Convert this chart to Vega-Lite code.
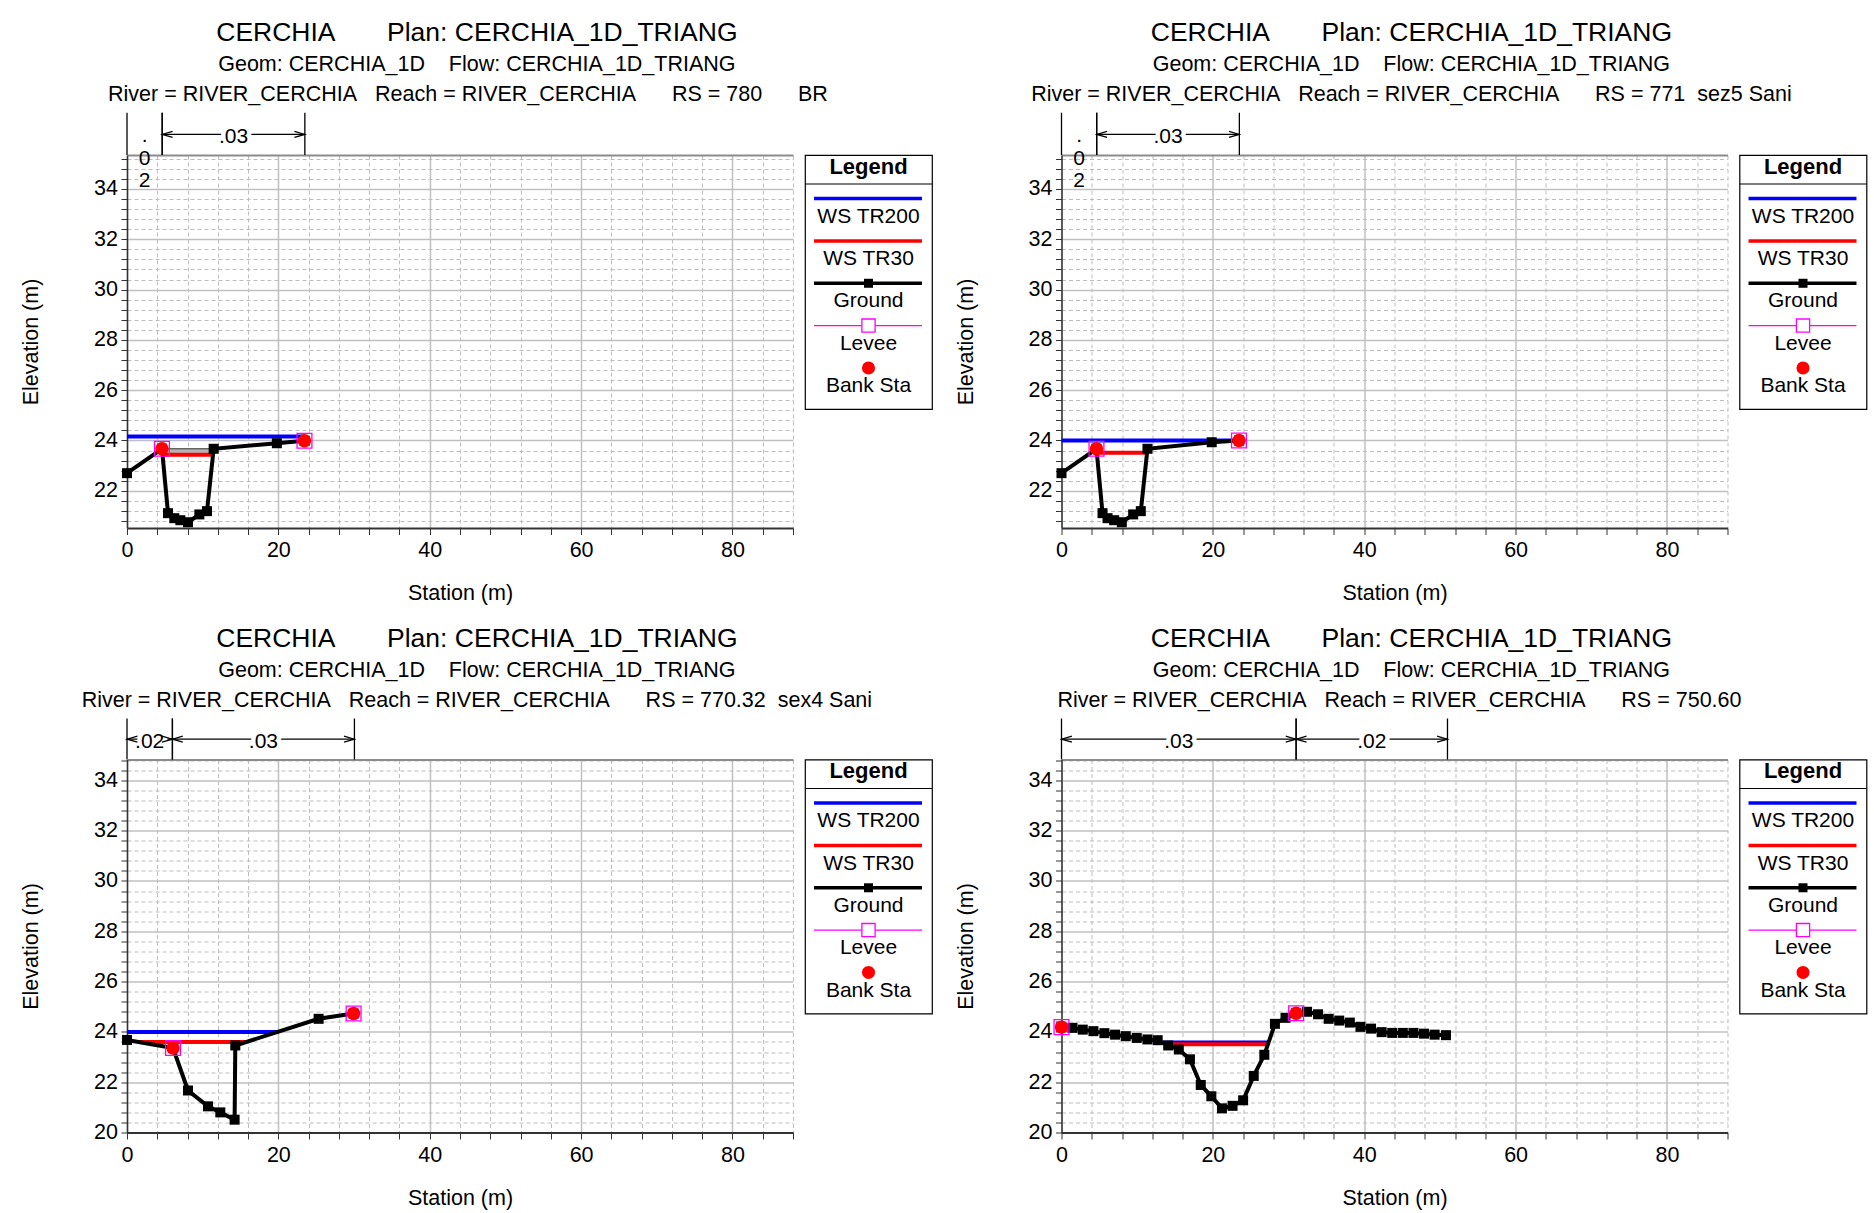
{
"$schema": "https://vega.github.io/schema/vega-lite/v6.json",
"background": "white",
"padding": {"left": 20, "top": 19, "right": 5, "bottom": 5},
"config": {
 "font": "Liberation Sans",
 "view": {"stroke": null},
 "axis": {"labelFont": "Liberation Sans", "titleFont": "Liberation Sans", "labelFontSize": 21.5, "titleFontSize": 21.5, "titleFontWeight": "normal", "labelColor": "#000", "titleColor": "#000", "tickColor": "#333", "domainColor": "#333", "labelFlush": false, "labelOverlap": false, "tickWidth": 1},
 "title": {"font": "Liberation Sans", "fontSize": 26.5, "fontWeight": "normal", "color": "#000", "subtitleFont": "Liberation Sans", "subtitleFontSize": 21.5, "subtitleColor": "#000", "subtitleLineHeight": 30, "subtitlePadding": 7.7, "anchor": "middle", "frame": "bounds", "offset": 6.5},
 "text": {"font": "Liberation Sans", "color": "#000"}
},
"datasets": {
 "ground": [
  {"p":"780","sta":0,"elev":22.70},{"p":"780","sta":4.62,"elev":23.67},{"p":"780","sta":5.42,"elev":21.11},{"p":"780","sta":6.25,"elev":20.91},{"p":"780","sta":7.05,"elev":20.83},{"p":"780","sta":8.06,"elev":20.75},{"p":"780","sta":9.56,"elev":21.06},{"p":"780","sta":10.57,"elev":21.19},{"p":"780","sta":11.45,"elev":23.67},{"p":"780","sta":19.8,"elev":23.89},{"p":"780","sta":23.45,"elev":23.99},
  {"p":"771","sta":0,"elev":22.70},{"p":"771","sta":4.62,"elev":23.67},{"p":"771","sta":5.42,"elev":21.11},{"p":"771","sta":6.08,"elev":20.91},{"p":"771","sta":6.96,"elev":20.83},{"p":"771","sta":7.97,"elev":20.75},{"p":"771","sta":9.47,"elev":21.06},{"p":"771","sta":10.48,"elev":21.19},{"p":"771","sta":11.36,"elev":23.67},{"p":"771","sta":19.85,"elev":23.93},{"p":"771","sta":23.45,"elev":24.0},
  {"p":"770.32","sta":0,"elev":23.68},{"p":"770.32","sta":6.08,"elev":23.36},{"p":"770.32","sta":8.06,"elev":21.67},{"p":"770.32","sta":10.7,"elev":21.04},{"p":"770.32","sta":12.33,"elev":20.8},{"p":"770.32","sta":14.22,"elev":20.51},{"p":"770.32","sta":14.31,"elev":23.46},{"p":"770.32","sta":25.32,"elev":24.52},{"p":"770.32","sta":29.94,"elev":24.73},
  {"p":"750.60","sta":0,"elev":24.19},{"p":"750.60","sta":1.45,"elev":24.16},{"p":"750.60","sta":2.81,"elev":24.09},{"p":"750.60","sta":4.22,"elev":24.03},{"p":"750.60","sta":5.67,"elev":23.95},{"p":"750.60","sta":7.08,"elev":23.89},{"p":"750.60","sta":8.49,"elev":23.83},{"p":"750.60","sta":9.94,"elev":23.76},{"p":"750.60","sta":11.35,"elev":23.70},{"p":"750.60","sta":12.71,"elev":23.67},{"p":"750.60","sta":14.1,"elev":23.46},{"p":"750.60","sta":15.5,"elev":23.30},{"p":"750.60","sta":16.97,"elev":22.91},{"p":"750.60","sta":18.4,"elev":21.89},{"p":"750.60","sta":19.8,"elev":21.44},{"p":"750.60","sta":21.2,"elev":20.96},{"p":"750.60","sta":22.6,"elev":21.06},{"p":"750.60","sta":24.0,"elev":21.28},{"p":"750.60","sta":25.4,"elev":22.25},{"p":"750.60","sta":26.8,"elev":23.09},{"p":"750.60","sta":28.2,"elev":24.32},{"p":"750.60","sta":29.6,"elev":24.56},{"p":"750.60","sta":31.0,"elev":24.74},{"p":"750.60","sta":32.45,"elev":24.80},{"p":"750.60","sta":33.9,"elev":24.70},{"p":"750.60","sta":35.3,"elev":24.52},{"p":"750.60","sta":36.7,"elev":24.45},{"p":"750.60","sta":38.1,"elev":24.37},{"p":"750.60","sta":39.5,"elev":24.20},{"p":"750.60","sta":40.9,"elev":24.13},{"p":"750.60","sta":42.3,"elev":23.99},{"p":"750.60","sta":43.7,"elev":23.96},{"p":"750.60","sta":45.1,"elev":23.96},{"p":"750.60","sta":46.5,"elev":23.96},{"p":"750.60","sta":47.9,"elev":23.93},{"p":"750.60","sta":49.3,"elev":23.89},{"p":"750.60","sta":50.8,"elev":23.87}
 ],
 "ws": [
  {"p":"780","s":"WS TR200","sta":0,"elev":24.16},{"p":"780","s":"WS TR200","sta":23.45,"elev":24.16},
  {"p":"780","s":"WS TR30","sta":4.84,"elev":23.43},{"p":"780","s":"WS TR30","sta":11.45,"elev":23.43},
  {"p":"771","s":"WS TR200","sta":0,"elev":24.0},{"p":"771","s":"WS TR200","sta":23.45,"elev":24.0},
  {"p":"771","s":"WS TR30","sta":4.9,"elev":23.51},{"p":"771","s":"WS TR30","sta":11.36,"elev":23.51},
  {"p":"770.32","s":"WS TR200","sta":0,"elev":24.0},{"p":"770.32","s":"WS TR200","sta":20.04,"elev":24.0},
  {"p":"770.32","s":"WS TR30","sta":1.52,"elev":23.60},{"p":"770.32","s":"WS TR30","sta":15.63,"elev":23.60},
  {"p":"750.60","s":"WS TR200","sta":13.4,"elev":23.58},{"p":"750.60","s":"WS TR200","sta":27.45,"elev":23.58},
  {"p":"750.60","s":"WS TR30","sta":13.5,"elev":23.51},{"p":"750.60","s":"WS TR30","sta":27.35,"elev":23.51}
 ],
 "bank": [
  {"p":"780","sta":4.62,"elev":23.67},{"p":"780","sta":23.45,"elev":23.99},
  {"p":"771","sta":4.62,"elev":23.67},{"p":"771","sta":23.45,"elev":24.0},
  {"p":"770.32","sta":6.08,"elev":23.36},{"p":"770.32","sta":29.94,"elev":24.73},
  {"p":"750.60","sta":0,"elev":24.19},{"p":"750.60","sta":31.0,"elev":24.74}
 ],
 "deck": [
  {"p":"780","from":4.62,"to":11.45,"low":23.47,"high":23.67}
 ],
 "nval": [
  {"p":"780","from":0,"to":4.65,"n":".02"},{"p":"780","from":4.65,"to":23.5,"n":".03"},
  {"p":"771","from":0,"to":4.65,"n":".02"},{"p":"771","from":4.65,"to":23.5,"n":".03"},
  {"p":"770.32","from":0,"to":6.0,"n":".02"},{"p":"770.32","from":6.0,"to":30.05,"n":".03"},
  {"p":"750.60","from":0,"to":31.0,"n":".03"},{"p":"750.60","from":31.0,"to":51.0,"n":".02"}
 ],
 "legend": [
  {"label":"Legend"},{"label":"WS TR200"},{"label":"WS TR30"},{"label":"Ground"},{"label":"Levee"},{"label":"Bank Sta"}
 ]
},
"spacing": 21.5,
"vconcat": [
 {"spacing": 20.5, "hconcat": [
  {"bounds": "flush", "spacing": 12,
   "title": {"text": "CERCHIA\u00a0\u00a0\u00a0\u00a0\u00a0\u00a0\u00a0Plan: CERCHIA_1D_TRIANG", "subtitle": ["Geom: CERCHIA_1D\u00a0\u00a0\u00a0\u00a0Flow: CERCHIA_1D_TRIANG", "River = RIVER_CERCHIA\u00a0\u00a0\u00a0Reach = RIVER_CERCHIA\u00a0\u00a0\u00a0\u00a0\u00a0\u00a0RS = 780\u00a0\u00a0\u00a0\u00a0\u00a0\u00a0BR\u00a0\u00a0\u00a0\u200b"]},
   "hconcat": [
    {"width": 666, "height": 373, "view": {"stroke": null},
     "resolve": {"axis": {"x": "independent", "y": "independent"}},
     "layer": [
      {"data": {"name": "deck"}, "transform": [{"filter": "datum.p == '780'"}],
       "mark": {"type": "rect", "fill": "#b4b4b4", "stroke": "#333", "strokeWidth": 1},
       "encoding": {"x": {"field": "from", "type": "quantitative", "axis": null}, "x2": {"field": "to"}, "y": {"field": "low", "type": "quantitative", "axis": null}, "y2": {"field": "high"}}},
      {"data": {"name": "ws"}, "transform": [{"filter": "datum.p == '780'"}],
       "mark": {"type": "line", "strokeWidth": 4},
       "encoding": {
        "x": {"field": "sta", "type": "quantitative", "scale": {"domain": [0, 88], "nice": false, "zero": false}, "axis": {"orient": "bottom", "values": [4,8,12,16,24,28,32,36,44,48,52,56,64,68,72,76,84,88], "labels": false, "title": null, "domain": false, "tickSize": 6.5, "grid": true, "gridColor": "#bdbdbd", "gridDash": [4,3], "gridWidth": 1}},
        "y": {"field": "elev", "type": "quantitative", "scale": {"domain": [20.52, 35.35], "nice": false, "zero": false}, "axis": {"orient": "left", "values": [20.8,21.2,21.6,22.4,22.8,23.2,23.6,24.4,24.8,25.2,25.6,26.4,26.8,27.2,27.6,28.4,28.8,29.2,29.6,30.4,30.8,31.2,31.6,32.4,32.8,33.2,33.6,34.4,34.8,35.2], "labels": false, "title": null, "domain": false, "tickSize": 6, "grid": true, "gridColor": "#bdbdbd", "gridDash": [4,3], "gridWidth": 1}},
        "color": {"field": "s", "type": "nominal", "scale": {"domain": ["WS TR200", "WS TR30"], "range": ["#0000ff", "#ff0000"]}, "legend": null}}},
      {"data": {"name": "ground"}, "transform": [{"filter": "datum.p == '780'"}],
       "mark": {"type": "line", "color": "#000", "strokeWidth": 4},
       "encoding": {
        "x": {"field": "sta", "type": "quantitative", "scale": {"domain": [0, 88], "nice": false, "zero": false}, "axis": {"orient": "bottom", "values": [0,20,40,60,80], "title": "Station (m)", "titlePadding": 21.5, "labelPadding": 5, "tickSize": 6.5, "domainWidth": 2, "grid": true, "gridColor": "#c0c0c0", "gridWidth": 1.5}},
        "y": {"field": "elev", "type": "quantitative", "scale": {"domain": [20.52, 35.35], "nice": false, "zero": false}, "axis": {"orient": "left", "values": [22,24,26,28,30,32,34], "title": "Elevation (m)", "titlePadding": 51, "labelPadding": 3.5, "tickSize": 6, "domainWidth": 1.5, "grid": true, "gridColor": "#c0c0c0", "gridWidth": 1.5}}}},
      {"data": {"name": "ground"}, "transform": [{"filter": "datum.p == '780'"}],
       "mark": {"type": "point", "shape": "square", "filled": true, "color": "#000", "size": 100, "opacity": 1},
       "encoding": {"x": {"field": "sta", "type": "quantitative", "axis": null}, "y": {"field": "elev", "type": "quantitative", "axis": null}}},
      {"data": {"name": "bank"}, "transform": [{"filter": "datum.p == '780'"}],
       "mark": {"type": "point", "shape": "square", "filled": false, "stroke": "#ff00ff", "strokeWidth": 1.3, "size": 220, "opacity": 1},
       "encoding": {"x": {"field": "sta", "type": "quantitative", "axis": null}, "y": {"field": "elev", "type": "quantitative", "axis": null}}},
      {"data": {"name": "bank"}, "transform": [{"filter": "datum.p == '780'"}],
       "mark": {"type": "point", "shape": "circle", "filled": true, "color": "#ff0000", "size": 180, "opacity": 1},
       "encoding": {"x": {"field": "sta", "type": "quantitative", "axis": null}, "y": {"field": "elev", "type": "quantitative", "axis": null}}},
      {"data": {"name": "nval"}, "transform": [{"filter": "datum.p == '780'"}, {"fold": ["from", "to"], "as": ["end", "sta"]}],
       "mark": {"type": "rule", "color": "#000", "strokeWidth": 1.3},
       "encoding": {"x": {"field": "sta", "type": "quantitative", "axis": {"orient": "top", "domain": true, "domainColor": "#8c8c8c", "domainWidth": 2, "ticks": false, "labels": false, "grid": false, "title": null}}, "y": {"datum": 37.03, "axis": null}, "y2": {"datum": 35.35}}},
      {"data": {"name": "nval"}, "transform": [{"filter": "datum.p == '780' && datum.n == '.03'"}],
       "mark": {"type": "rule", "color": "#000", "strokeWidth": 1.2},
       "encoding": {"x": {"field": "from", "type": "quantitative", "axis": null}, "x2": {"field": "to"}, "y": {"datum": 36.17, "axis": null}}},
      {"data": {"name": "nval"}, "transform": [{"filter": "datum.p == '780' && datum.n == '.03'"}, {"fold": ["from", "to"], "as": ["end", "sta"]}, {"aggregate": [{"op": "mean", "field": "sta", "as": "mid"}], "groupby": ["n"]}],
       "mark": {"type": "text", "fontSize": 21, "align": "center", "baseline": "middle", "dy": 2.5, "stroke": "white", "strokeWidth": 9, "fill": "white"},
       "encoding": {"x": {"field": "mid", "type": "quantitative", "axis": null}, "y": {"datum": 36.17, "axis": null}, "text": {"field": "n"}}},
      {"data": {"name": "nval"}, "transform": [{"filter": "datum.p == '780' && datum.n == '.03'"}],
       "mark": {"type": "point", "shape": "M2.6,-0.75L0,0L2.6,0.75", "filled": false, "stroke": "#000", "strokeWidth": 1.2, "size": 64, "opacity": 1},
       "encoding": {"x": {"field": "from", "type": "quantitative", "axis": null}, "y": {"datum": 36.17, "axis": null}}},
      {"data": {"name": "nval"}, "transform": [{"filter": "datum.p == '780' && datum.n == '.03'"}],
       "mark": {"type": "point", "shape": "M-2.6,-0.75L0,0L-2.6,0.75", "filled": false, "stroke": "#000", "strokeWidth": 1.2, "size": 64, "opacity": 1},
       "encoding": {"x": {"field": "to", "type": "quantitative", "axis": null}, "y": {"datum": 36.17, "axis": null}}},
      {"data": {"name": "nval"}, "transform": [{"filter": "datum.p == '780' && datum.n == '.03'"}, {"fold": ["from", "to"], "as": ["end", "sta"]}, {"aggregate": [{"op": "mean", "field": "sta", "as": "mid"}], "groupby": ["n"]}],
       "mark": {"type": "text", "fontSize": 21, "align": "center", "baseline": "middle", "dy": 2.5, "color": "#000"},
       "encoding": {"x": {"field": "mid", "type": "quantitative", "axis": null}, "y": {"datum": 36.17, "axis": null}, "text": {"field": "n"}}},
      {"data": {"name": "nval"}, "transform": [{"filter": "datum.p == '780' && datum.n == '.02'"}, {"fold": ["from", "to"], "as": ["end", "sta"]}, {"aggregate": [{"op": "mean", "field": "sta", "as": "mid"}], "groupby": ["n"]}],
       "mark": {"type": "text", "fontSize": 21, "align": "center", "baseline": "middle", "lineHeight": 22.5, "color": "#000", "text": {"expr": "split(datum.n, '')"}},
       "encoding": {"x": {"field": "mid", "type": "quantitative", "axis": null}, "y": {"datum": 36.09, "axis": null}}}
     ]},
    {"width": 127, "height": 254, "view": {"stroke": "#000", "strokeWidth": 1.2}, "data": {"name": "legend"},
     "layer": [
      {"transform": [{"filter": "datum.label == 'Legend'"}],
       "mark": {"type": "text", "fontSize": 22, "fontWeight": "bold", "baseline": "middle", "align": "center", "color": "#000"},
       "encoding": {"x": {"datum": 0.5, "type": "quantitative", "scale": {"domain": [0, 1], "nice": false, "zero": false}, "axis": null}, "y": {"field": "label", "type": "nominal", "scale": {"type": "band", "domain": ["Legend","WS TR200","WS TR30","Ground","Levee","Bank Sta"], "paddingInner": 0, "paddingOuter": 0}, "axis": null, "bandPosition": 0.276}, "text": {"field": "label"}}},
      {"transform": [{"filter": "datum.label == 'Legend'"}],
       "mark": {"type": "rule", "color": "#000", "strokeWidth": 1.2},
       "encoding": {"x": {"datum": 0, "type": "quantitative", "axis": null}, "x2": {"datum": 1}, "y": {"field": "label", "type": "nominal", "axis": null, "bandPosition": 0.685}}},
      {"transform": [{"filter": "datum.label == 'WS TR200'"}],
       "mark": {"type": "rule", "strokeWidth": 3.5, "color": "#0000ff"},
       "encoding": {"x": {"datum": 0.071, "type": "quantitative", "axis": null}, "x2": {"datum": 0.921}, "y": {"field": "label", "type": "nominal", "axis": null, "bandPosition": 0.03}}},
      {"transform": [{"filter": "datum.label == 'WS TR30'"}],
       "mark": {"type": "rule", "strokeWidth": 3.5, "color": "#ff0000"},
       "encoding": {"x": {"datum": 0.071, "type": "quantitative", "axis": null}, "x2": {"datum": 0.921}, "y": {"field": "label", "type": "nominal", "axis": null, "bandPosition": 0.03}}},
      {"transform": [{"filter": "datum.label == 'Ground'"}],
       "mark": {"type": "rule", "strokeWidth": 3.5, "color": "#000000"},
       "encoding": {"x": {"datum": 0.071, "type": "quantitative", "axis": null}, "x2": {"datum": 0.921}, "y": {"field": "label", "type": "nominal", "axis": null, "bandPosition": 0.03}}},
      {"transform": [{"filter": "datum.label == 'Levee'"}],
       "mark": {"type": "rule", "color": "#ff00ff", "strokeWidth": 1.3},
       "encoding": {"x": {"datum": 0.071, "type": "quantitative", "axis": null}, "x2": {"datum": 0.921}, "y": {"field": "label", "type": "nominal", "axis": null, "bandPosition": 0.03}}},
      {"transform": [{"filter": "datum.label == 'Ground'"}],
       "mark": {"type": "point", "shape": "square", "filled": true, "color": "#000", "size": 81, "opacity": 1},
       "encoding": {"x": {"datum": 0.5, "type": "quantitative", "axis": null}, "y": {"field": "label", "type": "nominal", "axis": null, "bandPosition": 0.03}}},
      {"transform": [{"filter": "datum.label == 'Levee'"}],
       "mark": {"type": "point", "shape": "square", "filled": true, "fill": "white", "stroke": "#ff00ff", "strokeWidth": 1.3, "size": 175, "opacity": 1},
       "encoding": {"x": {"datum": 0.5, "type": "quantitative", "axis": null}, "y": {"field": "label", "type": "nominal", "axis": null, "bandPosition": 0.03}}},
      {"transform": [{"filter": "datum.label == 'Bank Sta'"}],
       "mark": {"type": "point", "shape": "circle", "filled": true, "color": "#ff0000", "size": 170, "opacity": 1},
       "encoding": {"x": {"datum": 0.5, "type": "quantitative", "axis": null}, "y": {"field": "label", "type": "nominal", "axis": null, "bandPosition": 0.03}}},
      {"transform": [{"filter": "datum.label != 'Legend'"}],
       "mark": {"type": "text", "fontSize": 21, "baseline": "middle", "align": "center", "color": "#000"},
       "encoding": {"x": {"datum": 0.5, "type": "quantitative", "axis": null}, "y": {"field": "label", "type": "nominal", "axis": null, "bandPosition": 0.46}, "text": {"field": "label"}}}
     ]}
   ]},
  {"bounds": "flush", "spacing": 12,
   "title": {"text": "CERCHIA\u00a0\u00a0\u00a0\u00a0\u00a0\u00a0\u00a0Plan: CERCHIA_1D_TRIANG", "subtitle": ["Geom: CERCHIA_1D\u00a0\u00a0\u00a0\u00a0Flow: CERCHIA_1D_TRIANG", "River = RIVER_CERCHIA\u00a0\u00a0\u00a0Reach = RIVER_CERCHIA\u00a0\u00a0\u00a0\u00a0\u00a0\u00a0RS = 771\u00a0\u00a0sez5 Sani"]},
   "hconcat": [
    {"width": 666, "height": 373, "view": {"stroke": null},
     "resolve": {"axis": {"x": "independent", "y": "independent"}},
     "layer": [
      {"data": {"name": "ws"}, "transform": [{"filter": "datum.p == '771'"}],
       "mark": {"type": "line", "strokeWidth": 4},
       "encoding": {
        "x": {"field": "sta", "type": "quantitative", "scale": {"domain": [0, 88], "nice": false, "zero": false}, "axis": {"orient": "bottom", "values": [4,8,12,16,24,28,32,36,44,48,52,56,64,68,72,76,84,88], "labels": false, "title": null, "domain": false, "tickSize": 6.5, "grid": true, "gridColor": "#bdbdbd", "gridDash": [4,3], "gridWidth": 1}},
        "y": {"field": "elev", "type": "quantitative", "scale": {"domain": [20.52, 35.35], "nice": false, "zero": false}, "axis": {"orient": "left", "values": [20.8,21.2,21.6,22.4,22.8,23.2,23.6,24.4,24.8,25.2,25.6,26.4,26.8,27.2,27.6,28.4,28.8,29.2,29.6,30.4,30.8,31.2,31.6,32.4,32.8,33.2,33.6,34.4,34.8,35.2], "labels": false, "title": null, "domain": false, "tickSize": 6, "grid": true, "gridColor": "#bdbdbd", "gridDash": [4,3], "gridWidth": 1}},
        "color": {"field": "s", "type": "nominal", "scale": {"domain": ["WS TR200", "WS TR30"], "range": ["#0000ff", "#ff0000"]}, "legend": null}}},
      {"data": {"name": "ground"}, "transform": [{"filter": "datum.p == '771'"}],
       "mark": {"type": "line", "color": "#000", "strokeWidth": 4},
       "encoding": {
        "x": {"field": "sta", "type": "quantitative", "scale": {"domain": [0, 88], "nice": false, "zero": false}, "axis": {"orient": "bottom", "values": [0,20,40,60,80], "title": "Station (m)", "titlePadding": 21.5, "labelPadding": 5, "tickSize": 6.5, "domainWidth": 2, "grid": true, "gridColor": "#c0c0c0", "gridWidth": 1.5}},
        "y": {"field": "elev", "type": "quantitative", "scale": {"domain": [20.52, 35.35], "nice": false, "zero": false}, "axis": {"orient": "left", "values": [22,24,26,28,30,32,34], "title": "Elevation (m)", "titlePadding": 51, "labelPadding": 3.5, "tickSize": 6, "domainWidth": 1.5, "grid": true, "gridColor": "#c0c0c0", "gridWidth": 1.5}}}},
      {"data": {"name": "ground"}, "transform": [{"filter": "datum.p == '771'"}],
       "mark": {"type": "point", "shape": "square", "filled": true, "color": "#000", "size": 100, "opacity": 1},
       "encoding": {"x": {"field": "sta", "type": "quantitative", "axis": null}, "y": {"field": "elev", "type": "quantitative", "axis": null}}},
      {"data": {"name": "bank"}, "transform": [{"filter": "datum.p == '771'"}],
       "mark": {"type": "point", "shape": "square", "filled": false, "stroke": "#ff00ff", "strokeWidth": 1.3, "size": 220, "opacity": 1},
       "encoding": {"x": {"field": "sta", "type": "quantitative", "axis": null}, "y": {"field": "elev", "type": "quantitative", "axis": null}}},
      {"data": {"name": "bank"}, "transform": [{"filter": "datum.p == '771'"}],
       "mark": {"type": "point", "shape": "circle", "filled": true, "color": "#ff0000", "size": 180, "opacity": 1},
       "encoding": {"x": {"field": "sta", "type": "quantitative", "axis": null}, "y": {"field": "elev", "type": "quantitative", "axis": null}}},
      {"data": {"name": "nval"}, "transform": [{"filter": "datum.p == '771'"}, {"fold": ["from", "to"], "as": ["end", "sta"]}],
       "mark": {"type": "rule", "color": "#000", "strokeWidth": 1.3},
       "encoding": {"x": {"field": "sta", "type": "quantitative", "axis": {"orient": "top", "domain": true, "domainColor": "#8c8c8c", "domainWidth": 2, "ticks": false, "labels": false, "grid": false, "title": null}}, "y": {"datum": 37.03, "axis": null}, "y2": {"datum": 35.35}}},
      {"data": {"name": "nval"}, "transform": [{"filter": "datum.p == '771' && datum.n == '.03'"}],
       "mark": {"type": "rule", "color": "#000", "strokeWidth": 1.2},
       "encoding": {"x": {"field": "from", "type": "quantitative", "axis": null}, "x2": {"field": "to"}, "y": {"datum": 36.17, "axis": null}}},
      {"data": {"name": "nval"}, "transform": [{"filter": "datum.p == '771' && datum.n == '.03'"}, {"fold": ["from", "to"], "as": ["end", "sta"]}, {"aggregate": [{"op": "mean", "field": "sta", "as": "mid"}], "groupby": ["n"]}],
       "mark": {"type": "text", "fontSize": 21, "align": "center", "baseline": "middle", "dy": 2.5, "stroke": "white", "strokeWidth": 9, "fill": "white"},
       "encoding": {"x": {"field": "mid", "type": "quantitative", "axis": null}, "y": {"datum": 36.17, "axis": null}, "text": {"field": "n"}}},
      {"data": {"name": "nval"}, "transform": [{"filter": "datum.p == '771' && datum.n == '.03'"}],
       "mark": {"type": "point", "shape": "M2.6,-0.75L0,0L2.6,0.75", "filled": false, "stroke": "#000", "strokeWidth": 1.2, "size": 64, "opacity": 1},
       "encoding": {"x": {"field": "from", "type": "quantitative", "axis": null}, "y": {"datum": 36.17, "axis": null}}},
      {"data": {"name": "nval"}, "transform": [{"filter": "datum.p == '771' && datum.n == '.03'"}],
       "mark": {"type": "point", "shape": "M-2.6,-0.75L0,0L-2.6,0.75", "filled": false, "stroke": "#000", "strokeWidth": 1.2, "size": 64, "opacity": 1},
       "encoding": {"x": {"field": "to", "type": "quantitative", "axis": null}, "y": {"datum": 36.17, "axis": null}}},
      {"data": {"name": "nval"}, "transform": [{"filter": "datum.p == '771' && datum.n == '.03'"}, {"fold": ["from", "to"], "as": ["end", "sta"]}, {"aggregate": [{"op": "mean", "field": "sta", "as": "mid"}], "groupby": ["n"]}],
       "mark": {"type": "text", "fontSize": 21, "align": "center", "baseline": "middle", "dy": 2.5, "color": "#000"},
       "encoding": {"x": {"field": "mid", "type": "quantitative", "axis": null}, "y": {"datum": 36.17, "axis": null}, "text": {"field": "n"}}},
      {"data": {"name": "nval"}, "transform": [{"filter": "datum.p == '771' && datum.n == '.02'"}, {"fold": ["from", "to"], "as": ["end", "sta"]}, {"aggregate": [{"op": "mean", "field": "sta", "as": "mid"}], "groupby": ["n"]}],
       "mark": {"type": "text", "fontSize": 21, "align": "center", "baseline": "middle", "lineHeight": 22.5, "color": "#000", "text": {"expr": "split(datum.n, '')"}},
       "encoding": {"x": {"field": "mid", "type": "quantitative", "axis": null}, "y": {"datum": 36.09, "axis": null}}}
     ]},
    {"width": 127, "height": 254, "view": {"stroke": "#000", "strokeWidth": 1.2}, "data": {"name": "legend"},
     "layer": [
      {"transform": [{"filter": "datum.label == 'Legend'"}],
       "mark": {"type": "text", "fontSize": 22, "fontWeight": "bold", "baseline": "middle", "align": "center", "color": "#000"},
       "encoding": {"x": {"datum": 0.5, "type": "quantitative", "scale": {"domain": [0, 1], "nice": false, "zero": false}, "axis": null}, "y": {"field": "label", "type": "nominal", "scale": {"type": "band", "domain": ["Legend","WS TR200","WS TR30","Ground","Levee","Bank Sta"], "paddingInner": 0, "paddingOuter": 0}, "axis": null, "bandPosition": 0.276}, "text": {"field": "label"}}},
      {"transform": [{"filter": "datum.label == 'Legend'"}],
       "mark": {"type": "rule", "color": "#000", "strokeWidth": 1.2},
       "encoding": {"x": {"datum": 0, "type": "quantitative", "axis": null}, "x2": {"datum": 1}, "y": {"field": "label", "type": "nominal", "axis": null, "bandPosition": 0.685}}},
      {"transform": [{"filter": "datum.label == 'WS TR200'"}],
       "mark": {"type": "rule", "strokeWidth": 3.5, "color": "#0000ff"},
       "encoding": {"x": {"datum": 0.071, "type": "quantitative", "axis": null}, "x2": {"datum": 0.921}, "y": {"field": "label", "type": "nominal", "axis": null, "bandPosition": 0.03}}},
      {"transform": [{"filter": "datum.label == 'WS TR30'"}],
       "mark": {"type": "rule", "strokeWidth": 3.5, "color": "#ff0000"},
       "encoding": {"x": {"datum": 0.071, "type": "quantitative", "axis": null}, "x2": {"datum": 0.921}, "y": {"field": "label", "type": "nominal", "axis": null, "bandPosition": 0.03}}},
      {"transform": [{"filter": "datum.label == 'Ground'"}],
       "mark": {"type": "rule", "strokeWidth": 3.5, "color": "#000000"},
       "encoding": {"x": {"datum": 0.071, "type": "quantitative", "axis": null}, "x2": {"datum": 0.921}, "y": {"field": "label", "type": "nominal", "axis": null, "bandPosition": 0.03}}},
      {"transform": [{"filter": "datum.label == 'Levee'"}],
       "mark": {"type": "rule", "color": "#ff00ff", "strokeWidth": 1.3},
       "encoding": {"x": {"datum": 0.071, "type": "quantitative", "axis": null}, "x2": {"datum": 0.921}, "y": {"field": "label", "type": "nominal", "axis": null, "bandPosition": 0.03}}},
      {"transform": [{"filter": "datum.label == 'Ground'"}],
       "mark": {"type": "point", "shape": "square", "filled": true, "color": "#000", "size": 81, "opacity": 1},
       "encoding": {"x": {"datum": 0.5, "type": "quantitative", "axis": null}, "y": {"field": "label", "type": "nominal", "axis": null, "bandPosition": 0.03}}},
      {"transform": [{"filter": "datum.label == 'Levee'"}],
       "mark": {"type": "point", "shape": "square", "filled": true, "fill": "white", "stroke": "#ff00ff", "strokeWidth": 1.3, "size": 175, "opacity": 1},
       "encoding": {"x": {"datum": 0.5, "type": "quantitative", "axis": null}, "y": {"field": "label", "type": "nominal", "axis": null, "bandPosition": 0.03}}},
      {"transform": [{"filter": "datum.label == 'Bank Sta'"}],
       "mark": {"type": "point", "shape": "circle", "filled": true, "color": "#ff0000", "size": 170, "opacity": 1},
       "encoding": {"x": {"datum": 0.5, "type": "quantitative", "axis": null}, "y": {"field": "label", "type": "nominal", "axis": null, "bandPosition": 0.03}}},
      {"transform": [{"filter": "datum.label != 'Legend'"}],
       "mark": {"type": "text", "fontSize": 21, "baseline": "middle", "align": "center", "color": "#000"},
       "encoding": {"x": {"datum": 0.5, "type": "quantitative", "axis": null}, "y": {"field": "label", "type": "nominal", "axis": null, "bandPosition": 0.46}, "text": {"field": "label"}}}
     ]}
   ]}
 ]},
 {"spacing": 20.5, "hconcat": [
  {"bounds": "flush", "spacing": 12,
   "title": {"text": "CERCHIA\u00a0\u00a0\u00a0\u00a0\u00a0\u00a0\u00a0Plan: CERCHIA_1D_TRIANG", "subtitle": ["Geom: CERCHIA_1D\u00a0\u00a0\u00a0\u00a0Flow: CERCHIA_1D_TRIANG", "River = RIVER_CERCHIA\u00a0\u00a0\u00a0Reach = RIVER_CERCHIA\u00a0\u00a0\u00a0\u00a0\u00a0\u00a0RS = 770.32\u00a0\u00a0sex4 Sani"]},
   "hconcat": [
    {"width": 666, "height": 373, "view": {"stroke": null},
     "resolve": {"axis": {"x": "independent", "y": "independent"}},
     "layer": [
      {"data": {"name": "ws"}, "transform": [{"filter": "datum.p == '770.32'"}],
       "mark": {"type": "line", "strokeWidth": 4},
       "encoding": {
        "x": {"field": "sta", "type": "quantitative", "scale": {"domain": [0, 88], "nice": false, "zero": false}, "axis": {"orient": "bottom", "values": [4,8,12,16,24,28,32,36,44,48,52,56,64,68,72,76,84,88], "labels": false, "title": null, "domain": false, "tickSize": 6.5, "grid": true, "gridColor": "#bdbdbd", "gridDash": [4,3], "gridWidth": 1}},
        "y": {"field": "elev", "type": "quantitative", "scale": {"domain": [20, 34.83], "nice": false, "zero": false}, "axis": {"orient": "left", "values": [20.4,20.8,21.2,21.6,22.4,22.8,23.2,23.6,24.4,24.8,25.2,25.6,26.4,26.8,27.2,27.6,28.4,28.8,29.2,29.6,30.4,30.8,31.2,31.6,32.4,32.8,33.2,33.6,34.4,34.8], "labels": false, "title": null, "domain": false, "tickSize": 6, "grid": true, "gridColor": "#bdbdbd", "gridDash": [4,3], "gridWidth": 1}},
        "color": {"field": "s", "type": "nominal", "scale": {"domain": ["WS TR200", "WS TR30"], "range": ["#0000ff", "#ff0000"]}, "legend": null}}},
      {"data": {"name": "ground"}, "transform": [{"filter": "datum.p == '770.32'"}],
       "mark": {"type": "line", "color": "#000", "strokeWidth": 4},
       "encoding": {
        "x": {"field": "sta", "type": "quantitative", "scale": {"domain": [0, 88], "nice": false, "zero": false}, "axis": {"orient": "bottom", "values": [0,20,40,60,80], "title": "Station (m)", "titlePadding": 21.5, "labelPadding": 5, "tickSize": 6.5, "domainWidth": 2, "grid": true, "gridColor": "#c0c0c0", "gridWidth": 1.5}},
        "y": {"field": "elev", "type": "quantitative", "scale": {"domain": [20, 34.83], "nice": false, "zero": false}, "axis": {"orient": "left", "values": [20,22,24,26,28,30,32,34], "title": "Elevation (m)", "titlePadding": 51, "labelPadding": 3.5, "tickSize": 6, "domainWidth": 1.5, "grid": true, "gridColor": "#c0c0c0", "gridWidth": 1.5}}}},
      {"data": {"name": "ground"}, "transform": [{"filter": "datum.p == '770.32'"}],
       "mark": {"type": "point", "shape": "square", "filled": true, "color": "#000", "size": 100, "opacity": 1},
       "encoding": {"x": {"field": "sta", "type": "quantitative", "axis": null}, "y": {"field": "elev", "type": "quantitative", "axis": null}}},
      {"data": {"name": "bank"}, "transform": [{"filter": "datum.p == '770.32'"}],
       "mark": {"type": "point", "shape": "square", "filled": false, "stroke": "#ff00ff", "strokeWidth": 1.3, "size": 220, "opacity": 1},
       "encoding": {"x": {"field": "sta", "type": "quantitative", "axis": null}, "y": {"field": "elev", "type": "quantitative", "axis": null}}},
      {"data": {"name": "bank"}, "transform": [{"filter": "datum.p == '770.32'"}],
       "mark": {"type": "point", "shape": "circle", "filled": true, "color": "#ff0000", "size": 180, "opacity": 1},
       "encoding": {"x": {"field": "sta", "type": "quantitative", "axis": null}, "y": {"field": "elev", "type": "quantitative", "axis": null}}},
      {"data": {"name": "nval"}, "transform": [{"filter": "datum.p == '770.32'"}, {"fold": ["from", "to"], "as": ["end", "sta"]}],
       "mark": {"type": "rule", "color": "#000", "strokeWidth": 1.3},
       "encoding": {"x": {"field": "sta", "type": "quantitative", "axis": {"orient": "top", "domain": true, "domainColor": "#8c8c8c", "domainWidth": 2, "ticks": false, "labels": false, "grid": false, "title": null}}, "y": {"datum": 36.46, "axis": null}, "y2": {"datum": 34.83}}},
      {"data": {"name": "nval"}, "transform": [{"filter": "datum.p == '770.32'"}],
       "mark": {"type": "rule", "color": "#000", "strokeWidth": 1.2},
       "encoding": {"x": {"field": "from", "type": "quantitative", "axis": null}, "x2": {"field": "to"}, "y": {"datum": 35.64, "axis": null}}},
      {"data": {"name": "nval"}, "transform": [{"filter": "datum.p == '770.32'"}, {"fold": ["from", "to"], "as": ["end", "sta"]}, {"aggregate": [{"op": "mean", "field": "sta", "as": "mid"}], "groupby": ["n"]}],
       "mark": {"type": "text", "fontSize": 21, "align": "center", "baseline": "middle", "dy": 2.5, "stroke": "white", "strokeWidth": 9, "fill": "white"},
       "encoding": {"x": {"field": "mid", "type": "quantitative", "axis": null}, "y": {"datum": 35.64, "axis": null}, "text": {"field": "n"}}},
      {"data": {"name": "nval"}, "transform": [{"filter": "datum.p == '770.32'"}],
       "mark": {"type": "point", "shape": "M2.6,-0.75L0,0L2.6,0.75", "filled": false, "stroke": "#000", "strokeWidth": 1.2, "size": 64, "opacity": 1},
       "encoding": {"x": {"field": "from", "type": "quantitative", "axis": null}, "y": {"datum": 35.64, "axis": null}}},
      {"data": {"name": "nval"}, "transform": [{"filter": "datum.p == '770.32'"}],
       "mark": {"type": "point", "shape": "M-2.6,-0.75L0,0L-2.6,0.75", "filled": false, "stroke": "#000", "strokeWidth": 1.2, "size": 64, "opacity": 1},
       "encoding": {"x": {"field": "to", "type": "quantitative", "axis": null}, "y": {"datum": 35.64, "axis": null}}},
      {"data": {"name": "nval"}, "transform": [{"filter": "datum.p == '770.32'"}, {"fold": ["from", "to"], "as": ["end", "sta"]}, {"aggregate": [{"op": "mean", "field": "sta", "as": "mid"}], "groupby": ["n"]}],
       "mark": {"type": "text", "fontSize": 21, "align": "center", "baseline": "middle", "dy": 2.5, "color": "#000"},
       "encoding": {"x": {"field": "mid", "type": "quantitative", "axis": null}, "y": {"datum": 35.64, "axis": null}, "text": {"field": "n"}}}
     ]},
    {"width": 127, "height": 254, "view": {"stroke": "#000", "strokeWidth": 1.2}, "data": {"name": "legend"},
     "layer": [
      {"transform": [{"filter": "datum.label == 'Legend'"}],
       "mark": {"type": "text", "fontSize": 22, "fontWeight": "bold", "baseline": "middle", "align": "center", "color": "#000"},
       "encoding": {"x": {"datum": 0.5, "type": "quantitative", "scale": {"domain": [0, 1], "nice": false, "zero": false}, "axis": null}, "y": {"field": "label", "type": "nominal", "scale": {"type": "band", "domain": ["Legend","WS TR200","WS TR30","Ground","Levee","Bank Sta"], "paddingInner": 0, "paddingOuter": 0}, "axis": null, "bandPosition": 0.276}, "text": {"field": "label"}}},
      {"transform": [{"filter": "datum.label == 'Legend'"}],
       "mark": {"type": "rule", "color": "#000", "strokeWidth": 1.2},
       "encoding": {"x": {"datum": 0, "type": "quantitative", "axis": null}, "x2": {"datum": 1}, "y": {"field": "label", "type": "nominal", "axis": null, "bandPosition": 0.685}}},
      {"transform": [{"filter": "datum.label == 'WS TR200'"}],
       "mark": {"type": "rule", "strokeWidth": 3.5, "color": "#0000ff"},
       "encoding": {"x": {"datum": 0.071, "type": "quantitative", "axis": null}, "x2": {"datum": 0.921}, "y": {"field": "label", "type": "nominal", "axis": null, "bandPosition": 0.03}}},
      {"transform": [{"filter": "datum.label == 'WS TR30'"}],
       "mark": {"type": "rule", "strokeWidth": 3.5, "color": "#ff0000"},
       "encoding": {"x": {"datum": 0.071, "type": "quantitative", "axis": null}, "x2": {"datum": 0.921}, "y": {"field": "label", "type": "nominal", "axis": null, "bandPosition": 0.03}}},
      {"transform": [{"filter": "datum.label == 'Ground'"}],
       "mark": {"type": "rule", "strokeWidth": 3.5, "color": "#000000"},
       "encoding": {"x": {"datum": 0.071, "type": "quantitative", "axis": null}, "x2": {"datum": 0.921}, "y": {"field": "label", "type": "nominal", "axis": null, "bandPosition": 0.03}}},
      {"transform": [{"filter": "datum.label == 'Levee'"}],
       "mark": {"type": "rule", "color": "#ff00ff", "strokeWidth": 1.3},
       "encoding": {"x": {"datum": 0.071, "type": "quantitative", "axis": null}, "x2": {"datum": 0.921}, "y": {"field": "label", "type": "nominal", "axis": null, "bandPosition": 0.03}}},
      {"transform": [{"filter": "datum.label == 'Ground'"}],
       "mark": {"type": "point", "shape": "square", "filled": true, "color": "#000", "size": 81, "opacity": 1},
       "encoding": {"x": {"datum": 0.5, "type": "quantitative", "axis": null}, "y": {"field": "label", "type": "nominal", "axis": null, "bandPosition": 0.03}}},
      {"transform": [{"filter": "datum.label == 'Levee'"}],
       "mark": {"type": "point", "shape": "square", "filled": true, "fill": "white", "stroke": "#ff00ff", "strokeWidth": 1.3, "size": 175, "opacity": 1},
       "encoding": {"x": {"datum": 0.5, "type": "quantitative", "axis": null}, "y": {"field": "label", "type": "nominal", "axis": null, "bandPosition": 0.03}}},
      {"transform": [{"filter": "datum.label == 'Bank Sta'"}],
       "mark": {"type": "point", "shape": "circle", "filled": true, "color": "#ff0000", "size": 170, "opacity": 1},
       "encoding": {"x": {"datum": 0.5, "type": "quantitative", "axis": null}, "y": {"field": "label", "type": "nominal", "axis": null, "bandPosition": 0.03}}},
      {"transform": [{"filter": "datum.label != 'Legend'"}],
       "mark": {"type": "text", "fontSize": 21, "baseline": "middle", "align": "center", "color": "#000"},
       "encoding": {"x": {"datum": 0.5, "type": "quantitative", "axis": null}, "y": {"field": "label", "type": "nominal", "axis": null, "bandPosition": 0.46}, "text": {"field": "label"}}}
     ]}
   ]},
  {"bounds": "flush", "spacing": 12,
   "title": {"text": "CERCHIA\u00a0\u00a0\u00a0\u00a0\u00a0\u00a0\u00a0Plan: CERCHIA_1D_TRIANG", "subtitle": ["Geom: CERCHIA_1D\u00a0\u00a0\u00a0\u00a0Flow: CERCHIA_1D_TRIANG", "River = RIVER_CERCHIA\u00a0\u00a0\u00a0Reach = RIVER_CERCHIA\u00a0\u00a0\u00a0\u00a0\u00a0\u00a0RS = 750.60\u00a0\u00a0\u00a0\u00a0\u200b"]},
   "hconcat": [
    {"width": 666, "height": 373, "view": {"stroke": null},
     "resolve": {"axis": {"x": "independent", "y": "independent"}},
     "layer": [
      {"data": {"name": "ws"}, "transform": [{"filter": "datum.p == '750.60'"}],
       "mark": {"type": "line", "strokeWidth": 4},
       "encoding": {
        "x": {"field": "sta", "type": "quantitative", "scale": {"domain": [0, 88], "nice": false, "zero": false}, "axis": {"orient": "bottom", "values": [4,8,12,16,24,28,32,36,44,48,52,56,64,68,72,76,84,88], "labels": false, "title": null, "domain": false, "tickSize": 6.5, "grid": true, "gridColor": "#bdbdbd", "gridDash": [4,3], "gridWidth": 1}},
        "y": {"field": "elev", "type": "quantitative", "scale": {"domain": [20, 34.83], "nice": false, "zero": false}, "axis": {"orient": "left", "values": [20.4,20.8,21.2,21.6,22.4,22.8,23.2,23.6,24.4,24.8,25.2,25.6,26.4,26.8,27.2,27.6,28.4,28.8,29.2,29.6,30.4,30.8,31.2,31.6,32.4,32.8,33.2,33.6,34.4,34.8], "labels": false, "title": null, "domain": false, "tickSize": 6, "grid": true, "gridColor": "#bdbdbd", "gridDash": [4,3], "gridWidth": 1}},
        "color": {"field": "s", "type": "nominal", "scale": {"domain": ["WS TR200", "WS TR30"], "range": ["#0000ff", "#ff0000"]}, "legend": null}}},
      {"data": {"name": "ground"}, "transform": [{"filter": "datum.p == '750.60'"}],
       "mark": {"type": "line", "color": "#000", "strokeWidth": 4},
       "encoding": {
        "x": {"field": "sta", "type": "quantitative", "scale": {"domain": [0, 88], "nice": false, "zero": false}, "axis": {"orient": "bottom", "values": [0,20,40,60,80], "title": "Station (m)", "titlePadding": 21.5, "labelPadding": 5, "tickSize": 6.5, "domainWidth": 2, "grid": true, "gridColor": "#c0c0c0", "gridWidth": 1.5}},
        "y": {"field": "elev", "type": "quantitative", "scale": {"domain": [20, 34.83], "nice": false, "zero": false}, "axis": {"orient": "left", "values": [20,22,24,26,28,30,32,34], "title": "Elevation (m)", "titlePadding": 51, "labelPadding": 3.5, "tickSize": 6, "domainWidth": 1.5, "grid": true, "gridColor": "#c0c0c0", "gridWidth": 1.5}}}},
      {"data": {"name": "ground"}, "transform": [{"filter": "datum.p == '750.60'"}],
       "mark": {"type": "point", "shape": "square", "filled": true, "color": "#000", "size": 100, "opacity": 1},
       "encoding": {"x": {"field": "sta", "type": "quantitative", "axis": null}, "y": {"field": "elev", "type": "quantitative", "axis": null}}},
      {"data": {"name": "bank"}, "transform": [{"filter": "datum.p == '750.60'"}],
       "mark": {"type": "point", "shape": "square", "filled": false, "stroke": "#ff00ff", "strokeWidth": 1.3, "size": 220, "opacity": 1},
       "encoding": {"x": {"field": "sta", "type": "quantitative", "axis": null}, "y": {"field": "elev", "type": "quantitative", "axis": null}}},
      {"data": {"name": "bank"}, "transform": [{"filter": "datum.p == '750.60'"}],
       "mark": {"type": "point", "shape": "circle", "filled": true, "color": "#ff0000", "size": 180, "opacity": 1},
       "encoding": {"x": {"field": "sta", "type": "quantitative", "axis": null}, "y": {"field": "elev", "type": "quantitative", "axis": null}}},
      {"data": {"name": "nval"}, "transform": [{"filter": "datum.p == '750.60'"}, {"fold": ["from", "to"], "as": ["end", "sta"]}],
       "mark": {"type": "rule", "color": "#000", "strokeWidth": 1.3},
       "encoding": {"x": {"field": "sta", "type": "quantitative", "axis": {"orient": "top", "domain": true, "domainColor": "#8c8c8c", "domainWidth": 2, "ticks": false, "labels": false, "grid": false, "title": null}}, "y": {"datum": 36.46, "axis": null}, "y2": {"datum": 34.83}}},
      {"data": {"name": "nval"}, "transform": [{"filter": "datum.p == '750.60'"}],
       "mark": {"type": "rule", "color": "#000", "strokeWidth": 1.2},
       "encoding": {"x": {"field": "from", "type": "quantitative", "axis": null}, "x2": {"field": "to"}, "y": {"datum": 35.64, "axis": null}}},
      {"data": {"name": "nval"}, "transform": [{"filter": "datum.p == '750.60'"}, {"fold": ["from", "to"], "as": ["end", "sta"]}, {"aggregate": [{"op": "mean", "field": "sta", "as": "mid"}], "groupby": ["n"]}],
       "mark": {"type": "text", "fontSize": 21, "align": "center", "baseline": "middle", "dy": 2.5, "stroke": "white", "strokeWidth": 9, "fill": "white"},
       "encoding": {"x": {"field": "mid", "type": "quantitative", "axis": null}, "y": {"datum": 35.64, "axis": null}, "text": {"field": "n"}}},
      {"data": {"name": "nval"}, "transform": [{"filter": "datum.p == '750.60'"}],
       "mark": {"type": "point", "shape": "M2.6,-0.75L0,0L2.6,0.75", "filled": false, "stroke": "#000", "strokeWidth": 1.2, "size": 64, "opacity": 1},
       "encoding": {"x": {"field": "from", "type": "quantitative", "axis": null}, "y": {"datum": 35.64, "axis": null}}},
      {"data": {"name": "nval"}, "transform": [{"filter": "datum.p == '750.60'"}],
       "mark": {"type": "point", "shape": "M-2.6,-0.75L0,0L-2.6,0.75", "filled": false, "stroke": "#000", "strokeWidth": 1.2, "size": 64, "opacity": 1},
       "encoding": {"x": {"field": "to", "type": "quantitative", "axis": null}, "y": {"datum": 35.64, "axis": null}}},
      {"data": {"name": "nval"}, "transform": [{"filter": "datum.p == '750.60'"}, {"fold": ["from", "to"], "as": ["end", "sta"]}, {"aggregate": [{"op": "mean", "field": "sta", "as": "mid"}], "groupby": ["n"]}],
       "mark": {"type": "text", "fontSize": 21, "align": "center", "baseline": "middle", "dy": 2.5, "color": "#000"},
       "encoding": {"x": {"field": "mid", "type": "quantitative", "axis": null}, "y": {"datum": 35.64, "axis": null}, "text": {"field": "n"}}}
     ]},
    {"width": 127, "height": 254, "view": {"stroke": "#000", "strokeWidth": 1.2}, "data": {"name": "legend"},
     "layer": [
      {"transform": [{"filter": "datum.label == 'Legend'"}],
       "mark": {"type": "text", "fontSize": 22, "fontWeight": "bold", "baseline": "middle", "align": "center", "color": "#000"},
       "encoding": {"x": {"datum": 0.5, "type": "quantitative", "scale": {"domain": [0, 1], "nice": false, "zero": false}, "axis": null}, "y": {"field": "label", "type": "nominal", "scale": {"type": "band", "domain": ["Legend","WS TR200","WS TR30","Ground","Levee","Bank Sta"], "paddingInner": 0, "paddingOuter": 0}, "axis": null, "bandPosition": 0.276}, "text": {"field": "label"}}},
      {"transform": [{"filter": "datum.label == 'Legend'"}],
       "mark": {"type": "rule", "color": "#000", "strokeWidth": 1.2},
       "encoding": {"x": {"datum": 0, "type": "quantitative", "axis": null}, "x2": {"datum": 1}, "y": {"field": "label", "type": "nominal", "axis": null, "bandPosition": 0.685}}},
      {"transform": [{"filter": "datum.label == 'WS TR200'"}],
       "mark": {"type": "rule", "strokeWidth": 3.5, "color": "#0000ff"},
       "encoding": {"x": {"datum": 0.071, "type": "quantitative", "axis": null}, "x2": {"datum": 0.921}, "y": {"field": "label", "type": "nominal", "axis": null, "bandPosition": 0.03}}},
      {"transform": [{"filter": "datum.label == 'WS TR30'"}],
       "mark": {"type": "rule", "strokeWidth": 3.5, "color": "#ff0000"},
       "encoding": {"x": {"datum": 0.071, "type": "quantitative", "axis": null}, "x2": {"datum": 0.921}, "y": {"field": "label", "type": "nominal", "axis": null, "bandPosition": 0.03}}},
      {"transform": [{"filter": "datum.label == 'Ground'"}],
       "mark": {"type": "rule", "strokeWidth": 3.5, "color": "#000000"},
       "encoding": {"x": {"datum": 0.071, "type": "quantitative", "axis": null}, "x2": {"datum": 0.921}, "y": {"field": "label", "type": "nominal", "axis": null, "bandPosition": 0.03}}},
      {"transform": [{"filter": "datum.label == 'Levee'"}],
       "mark": {"type": "rule", "color": "#ff00ff", "strokeWidth": 1.3},
       "encoding": {"x": {"datum": 0.071, "type": "quantitative", "axis": null}, "x2": {"datum": 0.921}, "y": {"field": "label", "type": "nominal", "axis": null, "bandPosition": 0.03}}},
      {"transform": [{"filter": "datum.label == 'Ground'"}],
       "mark": {"type": "point", "shape": "square", "filled": true, "color": "#000", "size": 81, "opacity": 1},
       "encoding": {"x": {"datum": 0.5, "type": "quantitative", "axis": null}, "y": {"field": "label", "type": "nominal", "axis": null, "bandPosition": 0.03}}},
      {"transform": [{"filter": "datum.label == 'Levee'"}],
       "mark": {"type": "point", "shape": "square", "filled": true, "fill": "white", "stroke": "#ff00ff", "strokeWidth": 1.3, "size": 175, "opacity": 1},
       "encoding": {"x": {"datum": 0.5, "type": "quantitative", "axis": null}, "y": {"field": "label", "type": "nominal", "axis": null, "bandPosition": 0.03}}},
      {"transform": [{"filter": "datum.label == 'Bank Sta'"}],
       "mark": {"type": "point", "shape": "circle", "filled": true, "color": "#ff0000", "size": 170, "opacity": 1},
       "encoding": {"x": {"datum": 0.5, "type": "quantitative", "axis": null}, "y": {"field": "label", "type": "nominal", "axis": null, "bandPosition": 0.03}}},
      {"transform": [{"filter": "datum.label != 'Legend'"}],
       "mark": {"type": "text", "fontSize": 21, "baseline": "middle", "align": "center", "color": "#000"},
       "encoding": {"x": {"datum": 0.5, "type": "quantitative", "axis": null}, "y": {"field": "label", "type": "nominal", "axis": null, "bandPosition": 0.46}, "text": {"field": "label"}}}
     ]}
   ]}
 ]}
]
}
